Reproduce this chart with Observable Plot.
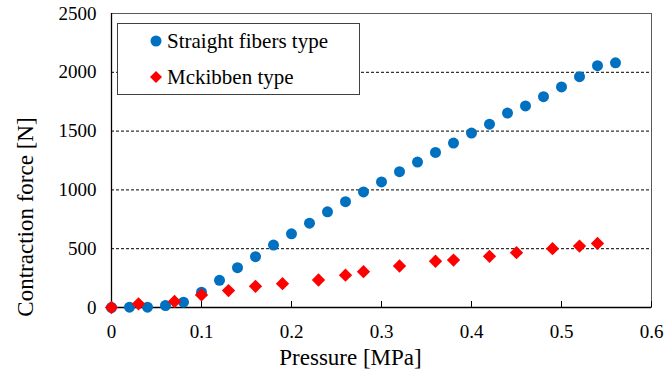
<!DOCTYPE html>
<html>
<head>
<meta charset="utf-8">
<script src="https://cdn.jsdelivr.net/npm/d3@7"></script>
<script src="https://cdn.jsdelivr.net/npm/@observablehq/plot@0.6"></script>
<style>
  html, body { margin: 0; padding: 0; background: #fff; }
  #wrap { position: relative; width: 667px; height: 382px; font-family: "Liberation Serif", "Times New Roman", serif; }
  #legend { position: absolute; left: 117px; top: 23px; width: 241px; height: 70px; border: 1px solid #404040; background: #fff; box-sizing: content-box; }
  .item { position: absolute; left: 31px; height: 30px; display: flex; align-items: center; white-space: nowrap; font-size: 21px; color: #000; font-family: "Liberation Serif", "Times New Roman", serif; }
  .item svg { display: block; margin-right: 4px; }
  #ytitle { position: absolute; left: 25px; top: 217px; transform: translate(-50%, -50%) rotate(-90deg); white-space: nowrap; font-size: 23px; line-height: 23px; color: #000; font-family: "Liberation Serif", "Times New Roman", serif; }
</style>
</head>
<body>
<div id="wrap"></div>
<script>
// ---- data ----
const straightX = [0, 0.02, 0.04, 0.06, 0.08, 0.10, 0.12, 0.14, 0.16, 0.18, 0.20, 0.22, 0.24, 0.26, 0.28, 0.30, 0.32, 0.34, 0.36, 0.38, 0.40, 0.42, 0.44, 0.46, 0.48, 0.50, 0.52, 0.54, 0.56];
const straightY = [0, 3, 3, 17, 45, 130, 231, 339, 432, 531, 627, 717, 814, 900, 983, 1068, 1155, 1237, 1319, 1398, 1483, 1559, 1653, 1714, 1793, 1876, 1963, 2056, 2081];
const mckX = [0, 0.03, 0.07, 0.10, 0.13, 0.16, 0.19, 0.23, 0.26, 0.28, 0.32, 0.36, 0.38, 0.42, 0.45, 0.49, 0.52, 0.54];
const mckY = [0, 31, 51, 107, 144, 180, 203, 234, 275, 305, 353, 393, 403, 435, 466, 500, 522, 545];
const seriesNames = ["Straight fibers type", "Mckibben type"];
const seriesColors = ["#0070C0", "#FF0000"];
const xTicks = [0, 0.1, 0.2, 0.3, 0.4, 0.5, 0.6];
const yTicks = [0, 500, 1000, 1500, 2000, 2500];
const gridValues = [500, 1000, 1500, 2000];
const xTitle = "Pressure [MPa]";
const yTitle = "Contraction force [N]";

const straight = straightX.map((x, i) => ({x, y: straightY[i]}));
const mck = mckX.map((x, i) => ({x, y: mckY[i]}));
const serif = "'Liberation Serif', 'Times New Roman', serif";

const chart = Plot.plot({
  width: 667,
  height: 382,
  marginLeft: 111,
  marginRight: 16,
  marginTop: 13,
  marginBottom: 75,
  style: {fontFamily: serif, fontSize: "19px", color: "#000", background: "#fff"},
  x: {domain: [0, 0.6]},
  y: {domain: [0, 2500]},
  marks: [
    Plot.frame({stroke: "#595959"}),
    Plot.gridY(gridValues, {stroke: "#000", strokeOpacity: 1, strokeDasharray: "3,2"}),
    Plot.ruleX([0], {stroke: "#000", strokeWidth: 1.3}),
    Plot.ruleY([0], {stroke: "#000", strokeWidth: 1.3}),
    Plot.axisX({ticks: xTicks, tickSize: -6, tickPadding: 23, label: null, tickFormat: d => String(d), fontFamily: serif}),
    Plot.axisY({ticks: yTicks, tickSize: 0, tickPadding: 15, label: null, tickFormat: d => String(d), fontFamily: serif}),
    Plot.dot(straight, {x: "x", y: "y", r: 5.5, fill: seriesColors[0]}),
    Plot.dot(mck, {x: "x", y: "y", symbol: "diamond2", r: 6, fill: seriesColors[1]}),
    Plot.text([xTitle], {frameAnchor: "bottom", text: d => d, dx: -31, dy: 57, fontSize: 23, fill: "#000", fontFamily: serif})
  ]
});

const wrap = document.getElementById("wrap");
wrap.appendChild(chart);

// y-axis title
const yt = document.createElement("div");
yt.id = "ytitle";
yt.textContent = yTitle;
wrap.appendChild(yt);

// legend
const legend = document.createElement("div");
legend.id = "legend";
const symbols = [
  `<svg width="14" height="14"><circle cx="7" cy="7" r="5.5" fill="${seriesColors[0]}"/></svg>`,
  `<svg width="14" height="14"><polygon points="7,1 13,7 7,13 1,7" fill="${seriesColors[1]}"/></svg>`
];
const centers = [17, 53];
seriesNames.forEach((name, i) => {
  const item = document.createElement("div");
  item.className = "item";
  item.style.top = (centers[i] - 15) + "px";
  item.innerHTML = symbols[i] + `<span>${name}</span>`;
  legend.appendChild(item);
});
wrap.appendChild(legend);
</script>
</body>
</html>
